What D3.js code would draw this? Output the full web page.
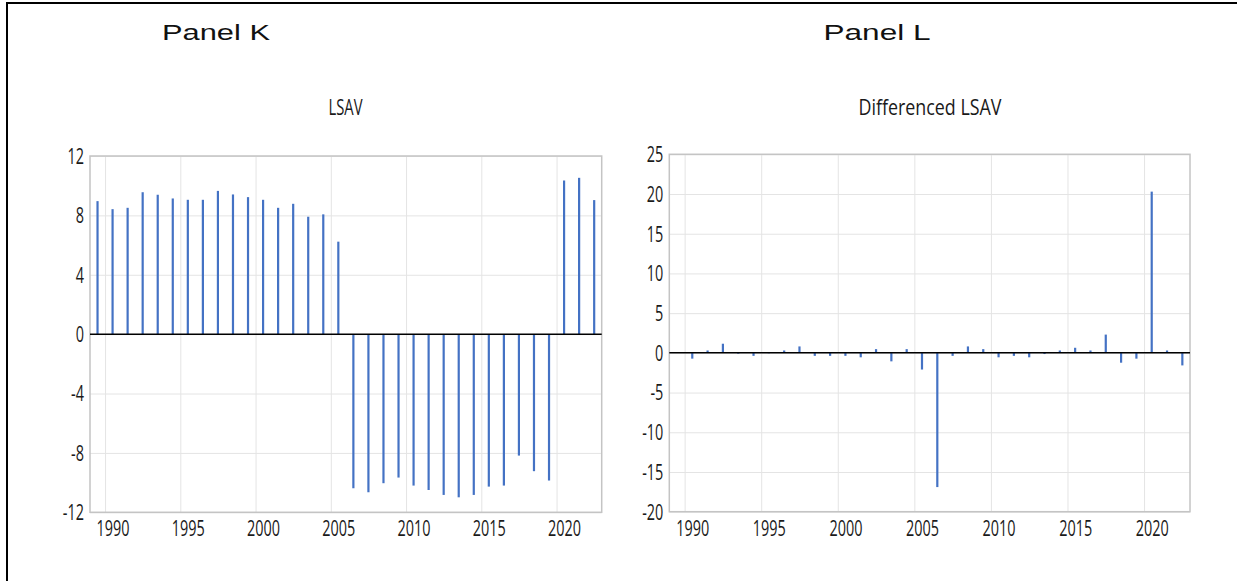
<!DOCTYPE html>
<html>
<head>
<meta charset="utf-8">
<script src="https://cdn.jsdelivr.net/npm/d3@7"></script>
<style>
  html, body { margin: 0; padding: 0; background: #fff; }
  svg { display: block; }
</style>
</head>
<body>
<svg id="chart" width="1237" height="581"></svg>
<script>
// Annual LSAV series, 1989-2022
const lsavYears = [1989, 1990, 1991, 1992, 1993, 1994, 1995, 1996, 1997, 1998, 1999,
  2000, 2001, 2002, 2003, 2004, 2005, 2006, 2007, 2008, 2009, 2010, 2011, 2012,
  2013, 2014, 2015, 2016, 2017, 2018, 2019, 2020, 2021, 2022];
const lsavValues = [8.96, 8.42, 8.51, 9.56, 9.39, 9.14, 9.05, 9.05, 9.65, 9.41, 9.23,
  9.05, 8.51, 8.78, 7.91, 8.07, 6.23, -10.38, -10.65, -10.04, -9.66, -10.20, -10.50, -10.83,
  -10.99, -10.83, -10.27, -10.20, -8.18, -9.23, -9.86, 10.35, 10.53, 9.03];

// First difference of LSAV, 1990-2022
const diffYears = [1990, 1991, 1992, 1993, 1994, 1995, 1996, 1997, 1998, 1999,
  2000, 2001, 2002, 2003, 2004, 2005, 2006, 2007, 2008, 2009, 2010, 2011, 2012,
  2013, 2014, 2015, 2016, 2017, 2018, 2019, 2020, 2021, 2022];
const diffValues = [-0.73, 0.30, 1.15, -0.10, -0.38, -0.05, 0.30, 0.81, -0.38, -0.38,
  -0.38, -0.56, 0.47, -1.07, 0.47, -2.10, -16.90, -0.38, 0.81, 0.47, -0.56, -0.38, -0.56,
  -0.15, 0.30, 0.64, 0.30, 2.30, -1.24, -0.73, 20.30, 0.30, -1.58];

// Axis settings
const xDomain = [1989, 2023];
const xLabelYears = [1990, 1995, 2000, 2005, 2010, 2015, 2020];
const lsavTicks = [-12, -8, -4, 0, 4, 8, 12];
const diffTicks = [-20, -15, -10, -5, 0, 5, 10, 15, 20, 25];

const svg = d3.select("#chart");
const chartFont = "'Open Sans', 'Noto Sans', sans-serif";
const headFont = "'Liberation Sans', Arial, sans-serif";
const inkColor = "#1a1a1a";
const barColor = "#4472c4";
const tickSize = 21;

// Outer frame (top and left rules)
svg.append("line").attr("x1", 6).attr("x2", 1237).attr("y1", 3).attr("y2", 3)
  .attr("stroke", "#000").attr("stroke-width", 2);
svg.append("line").attr("x1", 7).attr("x2", 7).attr("y1", 2).attr("y2", 581)
  .attr("stroke", "#000").attr("stroke-width", 2);

// Natural width of a string in a given font
function measure(text, family, size) {
  const p = svg.append("text").attr("font-family", family).attr("font-size", size).text(text);
  const w = p.node().getComputedTextLength();
  p.remove();
  return w;
}

// Horizontal compression used for all chart lettering
const narrow = 33 / measure("1990", chartFont, tickSize);

// Text drawn at (cx, cy) and scaled horizontally by sx
function scaledText(parent, text, cx, cy, sx, family, size, fill) {
  return parent.append("text")
    .attr("transform", `translate(${cx},${cy}) scale(${sx},1)`)
    .attr("text-anchor", "middle")
    .attr("font-family", family).attr("font-size", size).attr("fill", fill)
    .text(text);
}

function panelHeading(text, cx, width) {
  const sx = width / measure(text, headFont, 22);
  scaledText(svg, text, cx, 40, sx, headFont, 22, "#111");
}

function drawPanel(cfg) {
  const { left, right, top, bottom, yDomain, yTicks, years, values, title, titleX, titleWidth } = cfg;
  const w = right - left, h = bottom - top;
  const x = d3.scaleLinear().domain(xDomain).range([left, right]);
  const y = d3.scaleLinear().domain(yDomain).range([bottom, top]);

  const g = svg.append("g");

  // Horizontal gridlines
  g.append("g")
    .attr("transform", `translate(${left},0)`)
    .call(d3.axisLeft(y).tickValues(yTicks).tickSize(-w).tickFormat(""))
    .call(s => s.select(".domain").remove())
    .call(s => s.selectAll("line").attr("stroke", "#e4e4e4").attr("stroke-width", 1));

  // Vertical gridlines at the start of each labelled year
  g.append("g")
    .attr("transform", `translate(0,${bottom})`)
    .call(d3.axisBottom(x).tickValues(xLabelYears).tickSize(-h).tickFormat(""))
    .call(s => s.select(".domain").remove())
    .call(s => s.selectAll("line").attr("stroke", "#e4e4e4").attr("stroke-width", 1));

  // Plot-area border
  g.append("rect")
    .attr("x", left).attr("y", top).attr("width", w).attr("height", h)
    .attr("fill", "none").attr("stroke", "#c4c4c4").attr("stroke-width", 1.5);

  // Spikes, one per year, centred within the year
  g.append("g").selectAll("line").data(years)
    .join("line")
    .attr("x1", (d) => x(d + 0.5)).attr("x2", (d) => x(d + 0.5))
    .attr("y1", y(0))
    .attr("y2", (d, i) => y(values[i]))
    .attr("stroke", barColor).attr("stroke-width", 2.2);

  // Zero line
  g.append("line")
    .attr("x1", left).attr("x2", right).attr("y1", y(0)).attr("y2", y(0))
    .attr("stroke", "#000").attr("stroke-width", 1.5);

  // Y-axis labels (plain hyphen for negatives)
  const yAxis = g.append("g")
    .attr("transform", `translate(${left},0)`)
    .call(d3.axisLeft(y).tickValues(yTicks).tickSize(0).tickFormat(d => String(d)));
  yAxis.select(".domain").remove();
  yAxis.selectAll("text")
    .attr("font-family", chartFont).attr("font-size", tickSize).attr("fill", inkColor)
    .attr("x", -6 / narrow)
    .attr("dy", "0.35em")
    .attr("transform", `scale(${narrow},1)`);

  // X-axis labels, centred on each labelled year
  const xAxis = g.append("g")
    .attr("transform", `translate(0,${bottom})`)
    .call(d3.axisBottom(x).tickValues(xLabelYears.map(d => d + 0.5)).tickSize(0).tickPadding(9)
      .tickFormat(d => String(Math.floor(d))));
  xAxis.select(".domain").remove();
  xAxis.selectAll("text")
    .attr("font-family", chartFont).attr("font-size", tickSize).attr("fill", inkColor)
    .attr("transform", `scale(${narrow},1)`);

  // Chart title
  const sx = titleWidth / measure(title, chartFont, 22);
  scaledText(g, title, titleX, 115, sx, chartFont, 22, inkColor);
}

panelHeading("Panel K", 216, 108);
panelHeading("Panel L", 877, 107);

drawPanel({
  left: 90, right: 601.7, top: 156, bottom: 512.3,
  yDomain: [-12, 12], yTicks: lsavTicks,
  years: lsavYears, values: lsavValues,
  title: "LSAV", titleX: 345.5, titleWidth: 34
});

drawPanel({
  left: 669.3, right: 1190, top: 154.3, bottom: 511.7,
  yDomain: [-20, 25], yTicks: diffTicks,
  years: diffYears, values: diffValues,
  title: "Differenced LSAV", titleX: 930, titleWidth: 143
});
</script>
</body>
</html>
